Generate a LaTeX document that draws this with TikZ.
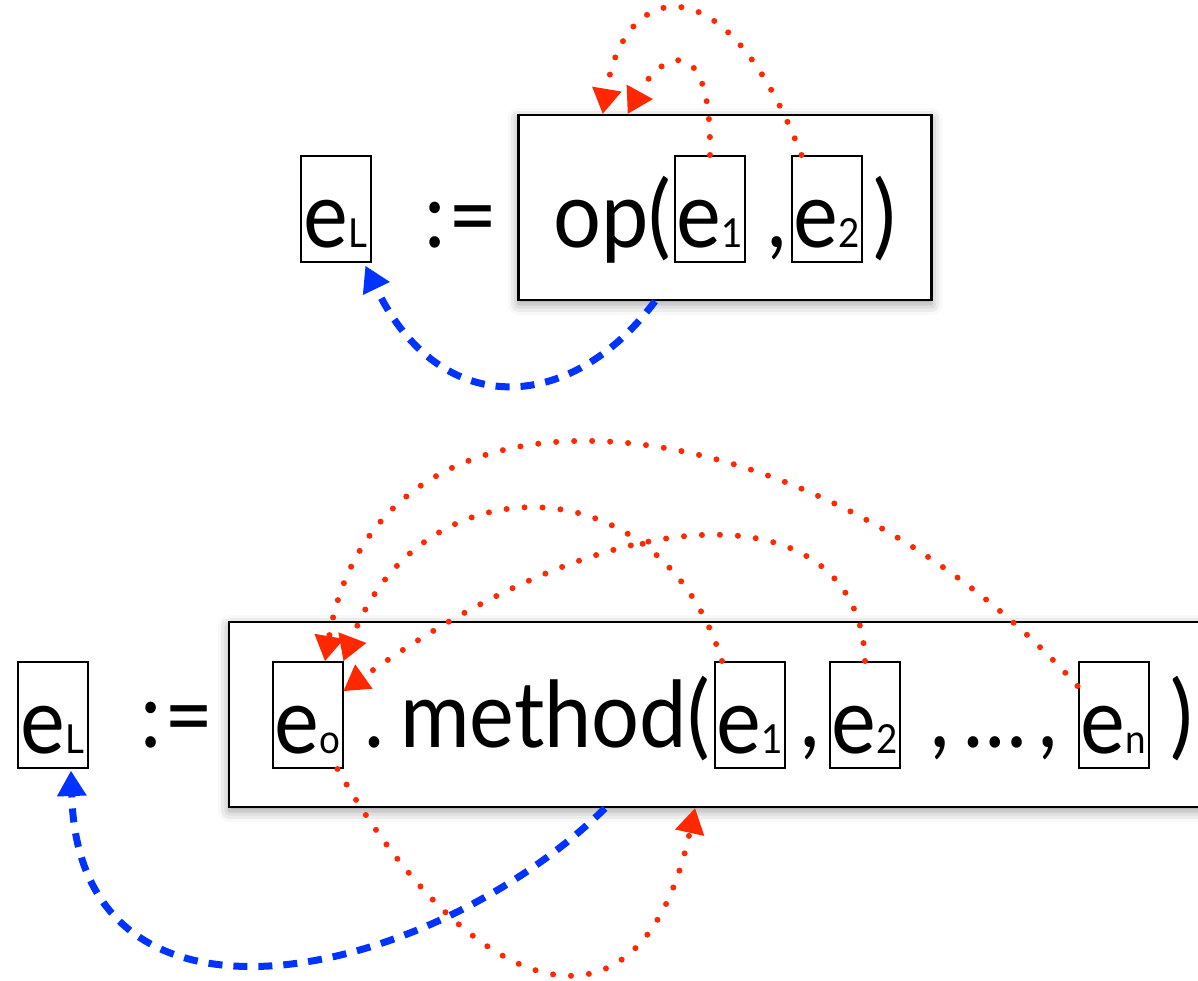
\documentclass[tikz,border=0pt]{standalone}
\usepackage{fontspec}
\setmainfont{Lato}[FakeStretch=0.92]
\usetikzlibrary{arrows.meta,shadows.blur}
\definecolor{myred}{RGB}{255,40,0}
\definecolor{myblue}{RGB}{0,51,255}
\newcommand{\mainsz}{\fontsize{92}{92}\selectfont}
\newcommand{\subsz}{\fontsize{40}{40}\selectfont}
\tikzset{
  ebox/.style={draw=black, line width=2pt, minimum width=70pt, minimum height=106pt,
    text height=91pt, text depth=15pt, inner sep=0pt, font=\mainsz},
  bigbox/.style={draw=black, line width=2.5pt, fill=white, inner sep=0pt,
    blur shadow={shadow xshift=0pt, shadow yshift=-4pt, shadow blur radius=11pt, shadow opacity=40}},
  txt/.style={inner sep=0pt, anchor=base west, font=\mainsz},
  reddot/.style={draw=myred, line width=6pt, line cap=round, dash pattern=on 0pt off 18pt,
    -{Triangle[length=25pt,width=30pt,line width=0pt,fill=myred]}},
  bluedash/.style={draw=myblue, line width=7pt, dash pattern=on 14pt off 11pt,
    -{Triangle[length=25pt,width=30pt,line width=0pt,fill=myblue]}}
}
\begin{document}
\begin{tikzpicture}[x=1pt,y=-1pt]
\useasboundingbox (0,0) rectangle (1198,980);
% big boxes
\node[bigbox, minimum width=413pt, minimum height=185pt] (opbox) at (725,207.5) {};
\node[bigbox, minimum width=1000pt, minimum height=185pt] (methbox) at (729,714.5) {};
% top row
\node[ebox] (eLa) at (335.5,209) {e{\subsz L}};
\node[txt] (defa) at (424,247) {:\kern3pt=};
\node[txt] (opa) at (553,247) {op(};
\node[ebox] (e1a) at (710,209) {e{\subsz 1}};
\node[txt] (ca) at (767,247) {,};
\node[ebox] (e2a) at (826.5,209) {e{\subsz 2}};
\node[txt] (cpa) at (873,247) {)};
% bottom row
\node[ebox] (eLb) at (52.5,715) {e{\subsz L}};
\node[txt] (defb) at (140,747) {:\kern3pt=};
\node[ebox] (eo) at (307.5,715) {e{\subsz o}};
\node[txt] (dot) at (364,747) {.};
\node[txt] (meth) at (400,747) {method(};
\node[ebox] (e1b) at (749.5,715) {e{\subsz 1}};
\node[txt] (cb1) at (800,747) {,};
\node[ebox] (e2b) at (865,715) {e{\subsz 2}};
\node[txt] (dots) at (930,747) {,\kern14pt…\kern12pt,};
\node[ebox] (en) at (1113.5,715) {e{\subsz n}};
\node[txt] (cpb) at (1170,747) {)};
% top connectors
\draw[reddot] (e1a.north) .. controls (712,25) and (660,55) .. ([xshift=110.5pt]opbox.north west);
\draw[reddot] ([xshift=-25pt]e2a.north) .. controls (725,-42) and (625,-20) .. ([xshift=85.5pt]opbox.north west);
\draw[bluedash] ([xshift=-70pt]opbox.south) .. controls (570,415) and (440,420) .. ([xshift=-6pt,yshift=-3pt]eLa.south east);
% bottom connectors
\draw[reddot] ([yshift=-25pt]en.north west) .. controls (820,400) and (380,340) .. ([xshift=17.5pt]eo.north);
\draw[reddot] ([xshift=8.5pt]e1b.north west) .. controls (660,460) and (420,460) .. (eo.north east);
\draw[reddot] (e2b.north) .. controls (860,500) and (640,480) .. ([yshift=-30pt]eo.north east);
\draw[reddot] ([xshift=-6pt]eo.south east) .. controls (470,1000) and (640,1060) .. ([xshift=-34pt]methbox.south);
\draw[bluedash] ([xshift=-124pt]methbox.south) .. controls (430,980) and (80,1060) .. ([xshift=18.5pt,yshift=-2pt]eLb.south);
\end{tikzpicture}
\end{document}
